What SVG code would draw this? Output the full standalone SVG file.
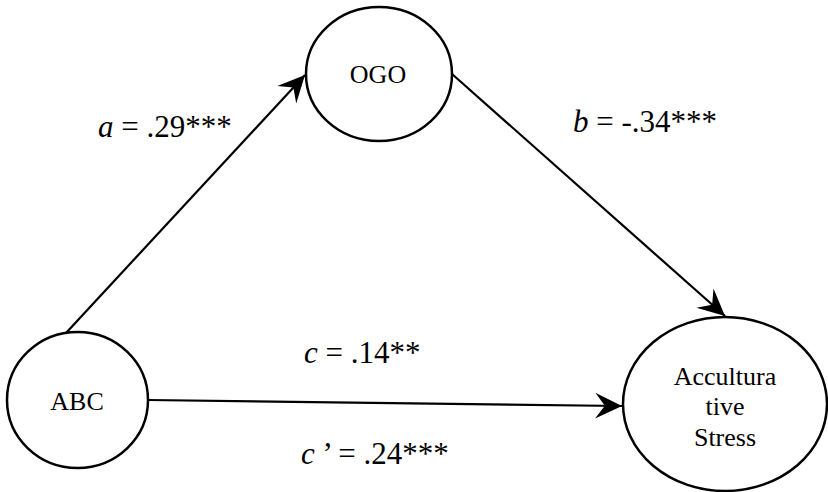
<svg xmlns="http://www.w3.org/2000/svg" width="828" height="492" viewBox="0 0 828 492">
<style>
.node{fill:#fff;stroke:#000;stroke-width:2.5}
.edge{stroke:#000;stroke-width:2.2;fill:none}
.nt{font-family:"Liberation Serif","Times New Roman",serif;font-size:26px;text-anchor:middle;fill:#000}
.lb{font-family:"Liberation Serif","Times New Roman",serif;font-size:31px;fill:#000}
.it{font-style:italic}
</style>
<defs>
<marker id="arr" markerUnits="userSpaceOnUse" markerWidth="30" markerHeight="30" viewBox="-26 -14 28 28" refX="0" refY="0" orient="auto">
<path d="M0,0 L-25,-12 L-16,0 L-25,12 Z" fill="#000"/>
</marker>
</defs>
<rect width="828" height="492" fill="#fff"/>
<g id="connectors">
<line class="edge" x1="66" y1="333" x2="305" y2="75" marker-end="url(#arr)"/>
<line class="edge" x1="452" y1="74" x2="725" y2="316" marker-end="url(#arr)"/>
<line class="edge" x1="148" y1="400" x2="622" y2="406" marker-end="url(#arr)"/>
</g>
<g id="node-ogo">
<ellipse class="node" cx="379" cy="74" rx="73" ry="67"/>
<text class="nt" x="378" y="83">OGO</text>
</g>
<g id="node-abc">
<ellipse class="node" cx="77.5" cy="400" rx="70.5" ry="68"/>
<text class="nt" x="77" y="410">ABC</text>
</g>
<g id="node-stress">
<ellipse class="node" cx="725" cy="404" rx="102" ry="87"/>
<text class="nt" x="725" y="385">Accultura</text>
<text class="nt" x="725" y="415">tive</text>
<text class="nt" x="725" y="446">Stress</text>
</g>
<g id="labels">
<text class="lb" x="98" y="137"><tspan class="it">a</tspan> = .29***</text>
<text class="lb" x="573" y="132"><tspan class="it">b</tspan> = -.34***</text>
<text class="lb" x="304" y="363"><tspan class="it">c</tspan> = .14**</text>
<text class="lb" x="301" y="464"><tspan class="it">c</tspan> ’ = .24***</text>
</g>
</svg>
